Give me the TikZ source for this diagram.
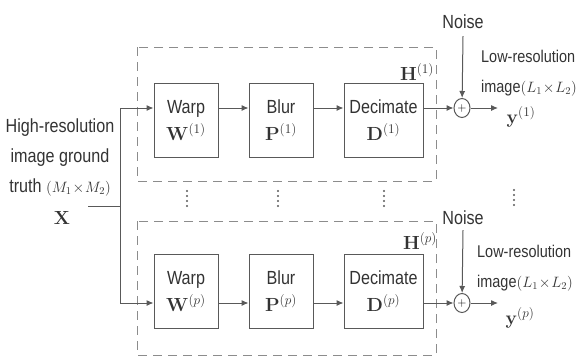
\documentclass[tikz,border=0pt]{standalone}
\usepackage{fix-cm}
\usepackage{amsmath}
\usepackage[no-math]{fontspec}
\setmainfont{Liberation Sans}[FakeStretch=0.85]
\usetikzlibrary{arrows.meta,positioning,shapes.geometric}
\newcommand\smallmath[1]{{\fontsize{15}{15}\selectfont$#1$}}
\tikzset{
  blk/.style={draw=black!65, line width=1pt, minimum width=64pt, minimum height=74pt,
    align=center, inner sep=0pt, text=black!80, font=\fontsize{19}{27}\selectfont},
  sig/.style={draw=black!65, line width=1pt, -{Latex[length=7pt,width=6pt]}},
  wire/.style={draw=black!65, line width=1pt},
  grp/.style={draw=black!45, line width=0.9pt, dash pattern=on 9pt off 6pt},
  lbl/.style={font=\fontsize{19}{30}\selectfont, text=black!80, align=center, inner sep=0pt},
  outlbl/.style={lbl, font=\fontsize{17}{30}\selectfont, align=left, anchor=west},
  addr/.style={draw=black!65, line width=1pt, ellipse, minimum width=16pt,
    minimum height=19pt, inner sep=0pt, font=\fontsize{12}{12}\selectfont},
}
\begin{document}
\begin{tikzpicture}[x=1pt, y=-1pt]
  \useasboundingbox (0,0) rectangle (581,356);

  % groups H^(1) ... H^(p)
  \draw[grp] (137,47) rectangle (436,181);
  \draw[grp] (137,221) rectangle (436,355);
  \node[lbl] (h1) at (417,72) {$\mathbf{H}^{(1)}$};
  \node[lbl] (hp) at (420,241) {$\mathbf{H}^{(p)}$};

  % input
  \node[lbl] (truth) at (60,157) {High-resolution\\image ground\\truth \smallmath{(M_1\!\times\! M_2)}};
  \node[lbl] (x) at (62,218) {$\mathbf{X}$};
  \coordinate (src) at (88,206);
  \coordinate (fork) at (120,206);
  \coordinate (row1) at (0,108);
  \coordinate (row2) at (0,303);

  % first chain
  \node[blk] (warp1) at (186,120) {Warp\\$\mathbf{W}^{(1)}$};
  \node[blk] (blur1) at (281,120) {Blur\\$\mathbf{P}^{(1)}$};
  \node[blk, minimum width=79pt] (dec1) at (383.5,120) {Decimate\\$\mathbf{D}^{(1)}$};
  \node[addr] (add1) at (462,108) {$+$};
  \node[lbl] (noise1) at (463,22) {Noise};
  \coordinate (out1) at (498,108);
  \node[outlbl] (lr1) at (481,73) {Low-resolution\\image\smallmath{(L_1\!\times\! L_2)}};
  \node[lbl] (y1) at (521,117) {$\mathbf{y}^{(1)}$};

  % last chain
  \node[blk] (warp2) at (186,291) {Warp\\$\mathbf{W}^{(p)}$};
  \node[blk] (blur2) at (281,291) {Blur\\$\mathbf{P}^{(p)}$};
  \node[blk, minimum width=79pt] (dec2) at (383.5,291) {Decimate\\$\mathbf{D}^{(p)}$};
  \node[addr] (add2) at (462,303) {$+$};
  \node[lbl] (noise2) at (463,218) {Noise};
  \coordinate (out2) at (498,303);
  \node[outlbl] (lr2) at (477,268) {Low-resolution\\image\smallmath{(L_1\!\times\! L_2)}};
  \node[lbl] (y2) at (520,318) {$\mathbf{y}^{(p)}$};

  % vertical dots between the chains
  \foreach \xd/\yd in {187/191, 278/191, 384/191, 514/190}
    \foreach \k in {0,1,2,3}
      \fill[black!65] (\xd,\yd+5*\k) circle (1.2pt);

  \draw[wire] (src) -- (fork);
  \draw[sig] (fork) |- (warp1.west |- row1);
  \draw[sig] (fork) |- (warp2.west |- row2);
  \draw[sig] (warp1.east |- row1) -- (blur1.west |- row1);
  \draw[sig] (blur1.east |- row1) -- (dec1.west |- row1);
  \draw[sig] (dec1.east |- row1) -- (add1);
  \draw[sig] (add1) -- (out1);
  \draw[sig] ([yshift=-7pt]noise1.south) -- (add1);
  \draw[sig] (warp2.east |- row2) -- (blur2.west |- row2);
  \draw[sig] (blur2.east |- row2) -- (dec2.west |- row2);
  \draw[sig] (dec2.east |- row2) -- (add2);
  \draw[sig] (add2) -- (out2);
  \draw[sig] ([yshift=-5pt]noise2.south) -- (add2);
\end{tikzpicture}
\end{document}
